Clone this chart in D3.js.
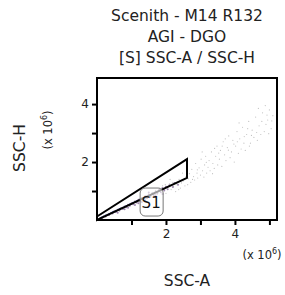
<!DOCTYPE html>
<html lang="en">
<head>
    <meta charset="UTF-8">
    <title>Scenith - M14 R132</title>
    <style>
        body { margin: 0; background: #fff; }
        svg { display: block; font-family: "DejaVu Sans", sans-serif; }
        .frame { fill: none; stroke: #000; stroke-width: 2; }
        .tick line { stroke: #000; stroke-width: 2; }
        .tick text { font-size: 12px; fill: #222; font-family: "DejaVu Sans", sans-serif; }
        .gate { fill: none; stroke: #000; stroke-width: 2; stroke-linejoin: miter; }
    </style>
</head>
<body>
    <svg id="chart" width="285" height="295"></svg>

    <script src="https://cdn.jsdelivr.net/npm/d3@7/dist/d3.min.js"></script>
    <script>
        // titles
        const titleLines = ['Scenith - M14 R132', 'AGI - DGO', '[S] SSC-A / SSC-H'];
        const xLabel = 'SSC-A', yLabel = 'SSC-H';

        // ticks (x 10^6)
        const xTicks = [1, 2, 3, 4, 5];
        const yTicks = [1, 2, 3, 4];
        const labelledTicks = [2, 4];

        // gate S1 polygon (x 10^6)
        const gateX = [0, 2.61, 2.61, 0];
        const gateY = [0.12, 2.1, 1.45, 0.0];
        const gateName = 'S1';
        const gateLabelPos = [1.57, 0.62];

        // sparse events (light gray)
        const sparsePts = [
            [1.62,0.95],[1.70,1.02],[1.75,0.88],[1.80,1.10],[1.85,0.97],[1.90,1.18],[1.95,1.04],[2.00,0.92],
            [2.05,1.12],[2.10,1.25],[2.15,1.05],[2.20,1.30],[2.22,1.15],[2.28,0.98],[2.32,1.22],[2.38,1.40],
            [2.42,1.10],[2.45,1.28],[2.50,1.35],[2.55,1.18],[2.58,1.50],[2.65,1.42],[2.68,1.60],[2.72,1.30],
            [2.75,1.75],[2.80,1.50],[2.83,1.38],[2.86,1.95],[2.90,1.62],[2.92,1.45],[2.96,1.80],[3.00,1.55],
            [3.02,2.10],[3.06,1.70],[3.10,1.48],[3.12,1.90],[3.15,2.20],[3.18,1.62],[3.22,1.82],[3.25,2.05],
            [3.28,1.70],[3.32,2.35],[3.36,1.95],[3.40,1.78],[3.44,2.20],[3.48,2.55],[3.50,1.90],[3.55,2.10],
            [3.58,2.40],[3.62,1.85],[3.66,2.70],[3.70,2.25],[3.74,2.05],[3.78,2.50],[3.82,2.90],[3.86,2.15],
            [3.90,2.35],[3.94,2.75],[3.98,2.00],[4.02,2.55],[4.06,3.05],[4.10,2.30],[4.14,2.80],[4.18,2.45],
            [4.22,3.20],[4.26,2.65],[4.30,2.40],[4.34,2.95],[4.40,3.40],[4.45,2.65],[4.50,3.10],[4.55,2.85],
            [4.60,3.55],[4.65,2.75],[4.70,3.25],[4.75,2.95],[4.80,3.70],[4.85,3.05],[4.90,3.30],[4.95,3.45],
            [5.00,3.80],[5.05,3.15],[5.10,3.60],[4.98,2.98],[4.68,3.85],[4.42,2.55],[4.88,3.95],[3.35,1.60],
            [3.05,2.35],[2.48,1.62],[3.72,2.80],[4.12,3.35],[2.63,1.22],[2.91,1.73],[3.17,1.99],[3.53,2.31],
            [3.81,2.41],[4.07,2.70],[4.37,3.15],[4.63,3.02],[4.93,3.62],[2.37,1.05],[2.77,1.40],[3.41,2.47],
            [3.97,2.62],[4.27,2.88],[4.78,3.40],[5.07,3.42],[2.12,1.40],[1.98,1.22],[3.63,2.55],[4.48,2.92]
        ];

        // dense band around the main population (purple-gray)
        const bandPts = [
            [0.10,0.07],[0.15,0.06],[0.20,0.13],[0.25,0.12],[0.30,0.18],[0.35,0.17],[0.40,0.24],[0.45,0.22],
            [0.50,0.30],[0.55,0.28],[0.60,0.35],[0.65,0.33],[0.70,0.41],[0.75,0.38],[0.80,0.47],[0.85,0.44],
            [0.90,0.53],[0.95,0.49],[1.00,0.58],[1.05,0.54],[1.10,0.64],[1.15,0.60],[1.20,0.70],[1.25,0.65],
            [1.30,0.76],[1.35,0.70],[1.40,0.82],[1.45,0.75],[1.50,0.88],[1.55,0.80],[1.60,0.92],[1.65,0.86],
            [1.70,0.98],[1.75,0.92],[1.80,1.04],[1.85,0.96],[1.90,1.10],[1.95,1.02],[2.00,1.15],[2.05,1.06],
            [2.10,1.20],[2.20,1.14],[2.25,1.28],[2.35,1.22],[0.60,0.25],[0.90,0.42],[1.20,0.58],[1.40,0.68],
            [1.70,0.85],[1.30,0.62],[1.10,0.52],[0.80,0.37],[1.50,0.95],[1.90,0.90]
        ];

        // densest core (blue / green)
        const bluePts = [
            [0.15,0.10],[0.25,0.16],[0.35,0.21],[0.45,0.27],[0.55,0.32],[0.65,0.38],[0.75,0.43],
            [0.85,0.49],[0.95,0.54],[1.05,0.60],[1.15,0.65],[1.25,0.71],[1.35,0.76],[1.45,0.81]
        ];
        const greenPts = [
            [0.20,0.12],[0.30,0.175],[0.40,0.23],[0.50,0.285],[0.60,0.34],[0.70,0.395],
            [0.80,0.45],[0.90,0.505],[1.00,0.56],[1.10,0.615],[1.20,0.67]
        ];

        const svg = d3.select('#chart');
        const padL = 97, padR = 277, padT = 78, padB = 220;

        const x = d3.scaleLinear().domain([0, 5.22]).range([padL, padR]);
        const y = d3.scaleLinear().domain([0, 4.9]).range([padB, padT]);

        // title
        svg.append('g').selectAll('text')
            .data(titleLines).enter().append('text')
            .attr('x', 187).attr('y', (d, i) => 21 + i * 21)
            .attr('text-anchor', 'middle')
            .attr('font-size', 15.5).attr('fill', '#222')
            .text(d => d);

        // events
        const ev = svg.append('g');
        function dots(pts, color, r) {
            ev.append('g').selectAll('circle')
                .data(pts).enter().append('circle')
                .attr('cx', d => x(d[0])).attr('cy', d => y(d[1]))
                .attr('r', r).attr('fill', color);
        }
        dots(sparsePts, '#c2c2c2', 0.6);
        dots(bandPts, '#9d86ad', 1.0);
        dots(bluePts, '#4a4fc8', 0.9);
        dots(greenPts, '#2f9a6a', 0.7);

        // axes
        const xAxis = d3.axisBottom(x).tickValues(xTicks).tickSize(5).tickPadding(4)
            .tickFormat(d => labelledTicks.includes(d) ? d : '');
        const yAxis = d3.axisLeft(y).tickValues(yTicks).tickSize(5).tickPadding(3)
            .tickFormat(d => labelledTicks.includes(d) ? d : '');
        svg.append('g').attr('transform', `translate(0,${padB})`).call(xAxis)
            .call(g => g.select('.domain').remove());
        svg.append('g').attr('transform', `translate(${padL},0)`).call(yAxis)
            .call(g => g.select('.domain').remove());

        svg.append('rect').attr('class', 'frame')
            .attr('x', padL).attr('y', padT)
            .attr('width', padR - padL).attr('height', padB - padT);

        // gate
        svg.append('path').attr('class', 'gate')
            .attr('d', d3.line()(gateX.map((gx, i) => [x(gx), y(gateY[i])])) + 'Z');

        const gl = svg.append('g')
            .attr('transform', `translate(${x(gateLabelPos[0])},${y(gateLabelPos[1])})`);
        gl.append('rect').attr('x', -11).attr('y', -14).attr('width', 23).attr('height', 28)
            .attr('rx', 5).attr('fill', 'rgba(255,255,255,0.6)')
            .attr('stroke', '#777').attr('stroke-width', 1);
        gl.append('text').attr('text-anchor', 'middle').attr('y', 6)
            .attr('font-size', 15).attr('fill', '#111').text(gateName);

        // axis titles
        svg.append('text').attr('x', 187).attr('y', 286)
            .attr('text-anchor', 'middle').attr('font-size', 15.5).attr('fill', '#222')
            .text(xLabel);
        const xm = svg.append('text').attr('x', 262).attr('y', 259)
            .attr('text-anchor', 'middle').attr('font-size', 11.5).attr('fill', '#222');
        xm.append('tspan').text('(x 10');
        xm.append('tspan').attr('font-size', 8).attr('dy', -5).text('6');
        xm.append('tspan').attr('dy', 5).text(')');

        svg.append('text').attr('transform', 'translate(25,148) rotate(-90)')
            .attr('text-anchor', 'middle').attr('font-size', 15.5).attr('fill', '#222')
            .text(yLabel);
        const ym = svg.append('text').attr('transform', 'translate(52,130) rotate(-90)')
            .attr('text-anchor', 'middle').attr('font-size', 11.5).attr('fill', '#222');
        ym.append('tspan').text('(x 10');
        ym.append('tspan').attr('font-size', 8).attr('dy', -5).text('6');
        ym.append('tspan').attr('dy', 5).text(')');
    </script>
</body>
</html>
